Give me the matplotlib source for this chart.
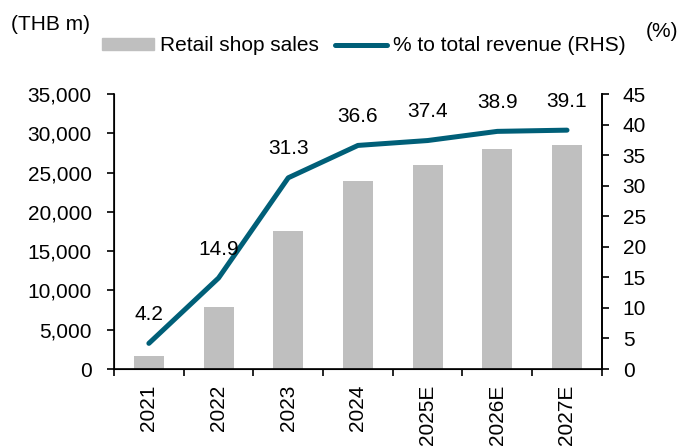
#!/usr/bin/env python

'''Retail shop sales and share of total revenue'''

import matplotlib
matplotlib.use('Agg')
from matplotlib.pyplot import figure
from matplotlib.patches import Patch
from matplotlib.lines import Line2D
import numpy as np

matplotlib.rcParams['font.family'] = ['Liberation Sans', 'DejaVu Sans']
matplotlib.rcParams['font.size'] = 15

years = ['2021', '2022', '2023', '2024', '2025E', '2026E', '2027E']
sales = [1600, 7900, 17600, 24000, 26000, 28000, 28500]      # THB m
pct_revenue = [4.2, 14.9, 31.3, 36.6, 37.4, 38.9, 39.1]      # %

bar_colour = '#bfbfbf'
line_colour = '#005f78'

if __name__ == '__main__':
    fig = figure(figsize=(6.89, 4.46), dpi=100)
    ax = fig.add_axes([0.1655, 0.1726, 0.708, 0.6164])
    x = np.arange(len(years))
    ax.bar(x, sales, width=0.43, color=bar_colour, zorder=1)
    ax.set_xlim(-0.5, len(years) - 0.5)
    ax.set_ylim(0, 35000)
    ax.set_yticks(np.arange(0, 35001, 5000))
    ax.set_yticklabels([f'{v:,}' for v in range(0, 35001, 5000)])
    ax.set_xticks(x)
    ax.set_xticklabels(years, rotation=90)
    ax.set_xticks(np.arange(-0.5, len(years), 1), minor=True)
    ax.tick_params(axis='x', which='major', length=0, pad=11)
    ax.tick_params(axis='x', which='minor', length=5, direction='out', width=1.2)
    ax.tick_params(axis='y', length=5, direction='out', width=1.2, pad=11)
    ax.spines['top'].set_visible(False)
    for s in ['left', 'bottom', 'right']:
        ax.spines[s].set_linewidth(1.2)

    ax2 = ax.twinx()
    ax2.plot(x, pct_revenue, color=line_colour, lw=3.6, solid_capstyle='round', zorder=3)
    ax2.set_ylim(0, 45)
    ax2.set_yticks(np.arange(0, 46, 5))
    ax2.tick_params(axis='y', length=5, direction='out', width=1.2, pad=10)
    ax2.spines['top'].set_visible(False)
    ax2.spines['right'].set_linewidth(1.2)
    for xi, v in zip(x, pct_revenue):
        ax2.annotate(f'{v:.1f}', (xi, v), xytext=(0, 14), textcoords='offset points',
                     ha='center', va='bottom')

    fig.text(0.016, 0.945, '(THB m)', ha='left', va='center')
    fig.text(0.985, 0.93, '(%)', ha='right', va='center')

    handles = [Patch(color=bar_colour),
               Line2D([0], [0], color=line_colour, lw=3.6, solid_capstyle='round')]
    fig.legend(handles, ['Retail shop sales', '% to total revenue (RHS)'],
               loc='center', bbox_to_anchor=(0.528, 0.897), ncol=2, frameon=False,
               handlelength=2.5, handleheight=0.45, handletextpad=0.3,
               columnspacing=0.75, borderaxespad=0, borderpad=0)

    fig.savefig('out.png', dpi=100)
